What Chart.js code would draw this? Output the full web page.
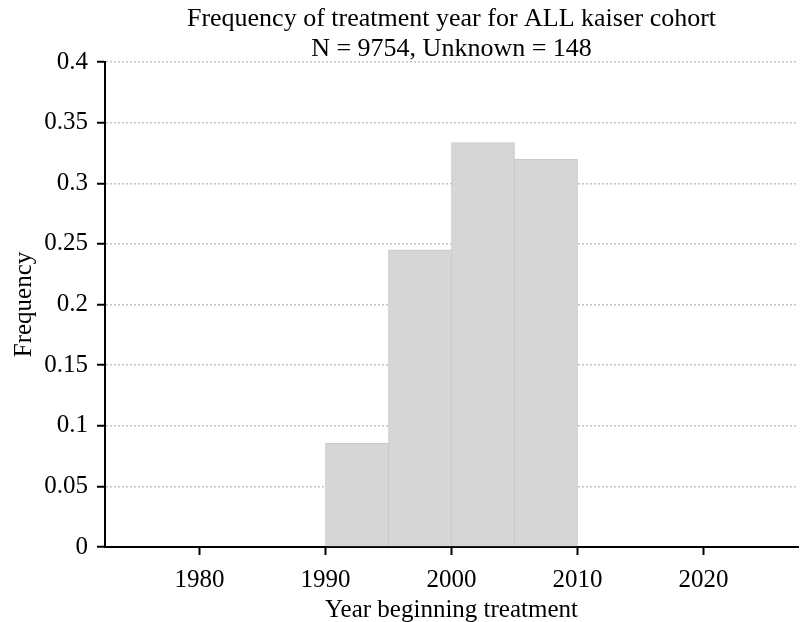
<!DOCTYPE html>
<html>
<head>
<meta charset="utf-8">
<script src="https://cdn.jsdelivr.net/npm/chart.js@4/dist/chart.umd.min.js"></script>
<style>
  html, body { margin: 0; padding: 0; background: #ffffff; }
  #wrap { width: 802px; height: 622px; }
</style>
</head>
<body>
<div id="wrap"><canvas id="c" width="802" height="622"></canvas></div>
<script>
// ---- data ----
const titleLines = ["Frequency of treatment year for ALL kaiser cohort", "N = 9754, Unknown = 148"];
const xAxisTitle = "Year beginning treatment";
const yAxisTitle = "Frequency";
const binEdges = [1990, 1995, 2000, 2005, 2010];
const frequencies = [0.0856, 0.245, 0.3336, 0.320];
const xTickValues = [1980, 1990, 2000, 2010, 2020];
const xTickLabels = ["1980", "1990", "2000", "2010", "2020"];
const yTickValues = [0, 0.05, 0.1, 0.15, 0.2, 0.25, 0.3, 0.35, 0.4];
const yTickLabels = ["0", "0.05", "0.1", "0.15", "0.2", "0.25", "0.3", "0.35", "0.4"];

const FONT = "'Liberation Serif', 'Times New Roman', serif";
const points = frequencies.map((f, i) => ({ x: (binEdges[i] + binEdges[i + 1]) / 2, y: f }));

Chart.defaults.color = '#000';
Chart.defaults.font.family = FONT;

new Chart(document.getElementById('c'), {
  type: 'bar',
  data: {
    datasets: [{
      data: points,
      backgroundColor: '#d6d6d6',
      borderColor: '#c6c6c6',
      borderWidth: 1,
      barPercentage: 1,
      categoryPercentage: 1
    }]
  },
  options: {
    responsive: false,
    devicePixelRatio: 1,
    animation: false,
    layout: { padding: { left: 0, right: 4, top: 0, bottom: 0 } },
    plugins: {
      legend: { display: false },
      tooltip: { enabled: false },
      title: {
        display: true,
        fullSize: false,
        text: titleLines,
        color: '#000',
        font: { family: FONT, size: 26, weight: 'normal', lineHeight: 30 / 26 },
        padding: { top: 4.5, bottom: -2.5 }
      }
    },
    scales: {
      x: {
        type: 'linear',
        min: 1972.5,
        max: 2027.5,
        offset: false,
        z: 1,
        afterFit: s => { s.height = 75; },
        afterBuildTicks: s => { s.ticks = xTickValues.map(v => ({ value: v })); },
        ticks: {
          autoSkip: false,
          maxRotation: 0,
          padding: 10,
          color: '#000',
          font: { family: FONT, size: 25 },
          callback: (v) => { const i = xTickValues.indexOf(v); return i >= 0 ? xTickLabels[i] : ''; }
        },
        grid: {
          offset: false,
          drawOnChartArea: false,
          drawTicks: true,
          tickLength: 8,
          tickColor: '#000',
          tickWidth: 2,
          tickBorderDash: []
        },
        border: { display: true, color: '#000', width: 2 },
        title: {
          display: true,
          text: xAxisTitle,
          color: '#000',
          font: { family: FONT, size: 25, lineHeight: 1 },
          padding: { top: 0, bottom: -1 }
        }
      },
      y: {
        type: 'linear',
        min: 0,
        max: 0.4,
        z: 1,
        afterFit: s => { s.width = 105; },
        afterBuildTicks: s => { s.ticks = yTickValues.map(v => ({ value: v })); },
        ticks: {
          padding: 9,
          color: '#000',
          font: { family: FONT, size: 25 },
          callback: (v) => { const i = yTickValues.findIndex(t => Math.abs(t - v) < 1e-9); return i >= 0 ? yTickLabels[i] : ''; }
        },
        grid: {
          drawOnChartArea: true,
          color: '#c4c4c4',
          lineWidth: 1.5,
          drawTicks: true,
          tickLength: 8,
          tickColor: '#000',
          tickWidth: 2,
          tickBorderDash: []
        },
        border: { display: true, color: '#000', width: 2, dash: [2, 2] },
        title: {
          display: true,
          text: yAxisTitle,
          color: '#000',
          font: { family: FONT, size: 25 },
          padding: { top: 9, bottom: 0 }
        }
      }
    }
  }
});
</script>
</body>
</html>
